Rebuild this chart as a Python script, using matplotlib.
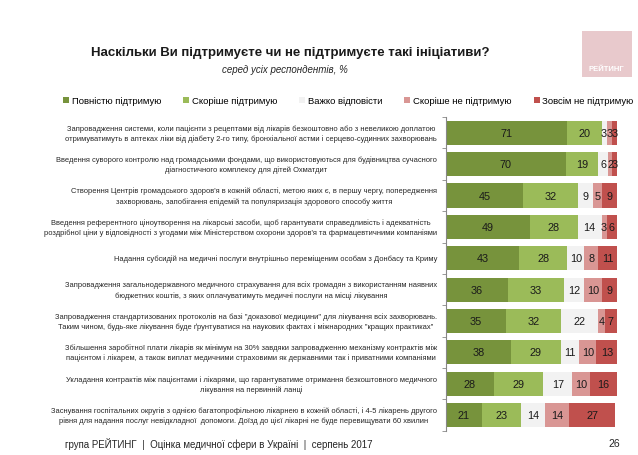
import matplotlib.pyplot as plt
from matplotlib.patches import Rectangle, Patch
import numpy as np

plt.rcParams['font.family'] = ['Liberation Sans', 'DejaVu Sans']

categories = [
    "Запровадження системи, коли пацієнти з рецептами від лікарів безкоштовно або з невеликою доплатою\n"
    "отримуватимуть в аптеках ліки від діабету 2-го типу, бронхіальної астми і серцево-судинних захворювань",
    "Введення суворого контролю над громадськими фондами, що використовуються для будівництва сучасного\n"
    "діагностичного комплексу для дітей Охматдит",
    "Створення Центрів громадського здоров'я в кожній області, метою яких є, в першу чергу, попередження\n"
    "захворювань, запобігання епідемій та популяризація здорового способу життя",
    "Введення референтного ціноутворення на лікарські засоби, щоб гарантувати справедливість і адекватність\n"
    "роздрібної ціни у відповідності з угодами між Міністерством охорони здоров'я та фармацевтичними компаніями",
    "Надання субсидій на медичні послуги внутрішньо переміщеним особам з Донбасу та Криму",
    "Запровадження загальнодержавного медичного страхування для всіх громадян з використанням наявних\n"
    "бюджетних коштів, з яких оплачуватимуть медичні послуги на місці лікування",
    "Запровадження стандартизованих протоколів на базі \"доказової медицини\" для лікування всіх захворювань.\n"
    "Таким чином, будь-яке лікування буде ґрунтуватися на наукових фактах і міжнародних \"кращих практиках\"",
    "Збільшення заробітної плати лікарів як мінімум на 30% завдяки запровадженню механізму контрактів між\n"
    "пацієнтом і лікарем, а також виплат медичними страховими як державними так і приватними компаніями",
    "Укладання контрактів між пацієнтами і лікарями, що гарантуватиме отримання безкоштовного медичного\n"
    "лікування на первинній ланці",
    "Заснування госпітальних округів з однією багатопрофільною лікарнею в кожній області, і 4-5 лікарень другого\n"
    "рівня для надання послуг невідкладної  допомоги. Доїзд до цієї лікарні не буде перевищувати 60 хвилин",
]

series_names = ["Повністю підтримую", "Скоріше підтримую", "Важко відповісти",
                "Скоріше не підтримую", "Зовсім не підтримую"]
fully_support = [71, 70, 45, 49, 43, 36, 35, 38, 28, 21]
rather_support = [20, 19, 32, 28, 28, 33, 32, 29, 29, 23]
hard_to_say = [3, 6, 9, 14, 10, 12, 22, 11, 17, 14]
rather_not = [3, 2, 5, 3, 8, 10, 4, 10, 10, 14]
not_at_all = [3, 3, 9, 6, 11, 9, 7, 13, 16, 27]

colors = ['#77933C', '#9BBB59', '#F2F2F2', '#D99694', '#C0504D']

fig = plt.figure(figsize=(6.38, 4.56), dpi=100)
ax = fig.add_axes([0.699, 0.053, 0.268, 0.688])

series = [fully_support, rather_support, hard_to_say, rather_not, not_at_all]
y = np.arange(len(categories))
left = np.zeros(len(categories))
for vals, col in zip(series, colors):
    vals = np.array(vals, dtype=float)
    bars = ax.barh(y, vals, left=left, height=0.77, color=col, edgecolor='none')
    for b, v in zip(bars, vals):
        ax.text(b.get_x() + b.get_width() / 2, b.get_y() + b.get_height() / 2,
                f"{int(v)}", ha='center', va='center', fontsize=7.8, color='#1a1a1a')
    left += vals

ax.set_xlim(0, 100)
ax.set_ylim(len(categories) - 0.5, -0.5)
ax.set_xticks([])
ax.set_yticks([])
ax.set_yticks(np.arange(len(categories) + 1) - 0.5, minor=True)
ax.tick_params(axis='y', which='minor', length=3, color='#888888', labelleft=False)
for s in ['top', 'right', 'bottom']:
    ax.spines[s].set_visible(False)
ax.spines['left'].set_color('#888888')
ax.spines['left'].set_linewidth(0.8)

for i, lab in enumerate(categories):
    ax.annotate(lab, xy=(0, i), xycoords=('axes fraction', 'data'),
                xytext=(-6.5, 0), textcoords='offset points',
                ha='right', va='center', multialignment='center',
                fontsize=5.4, color='#262626', linespacing=1.4)

handles = [Patch(facecolor=c, edgecolor='none') for c in colors]
fig.legend(handles, series_names, loc='center', bbox_to_anchor=(0.546, 0.777),
           ncol=5, frameon=False, fontsize=6.8, handlelength=0.65, handleheight=0.65,
           handletextpad=0.3, columnspacing=2.3)

fig.text(0.455, 0.883, "Наскільки Ви підтримуєте чи не підтримуєте такі ініціативи?",
         ha='center', va='center', fontsize=9.5, fontweight='bold', color='#1a1a1a')
fig.text(0.447, 0.846, "серед усіх респондентів, %", ha='center', va='center',
         fontsize=7, style='italic', color='#262626')

fig.add_artist(Rectangle((0.912, 0.83), 0.079, 0.1, transform=fig.transFigure,
                         facecolor='#E8C9CC', edgecolor='none'))
fig.text(0.951, 0.848, "РЕЙТИНГ", ha='center', va='center', fontsize=5.5,
         fontweight='bold', color='white')

fig.text(0.102, 0.026, "група РЕЙТИНГ  |  Оцінка медичної сфери в Україні  |  серпень 2017",
         ha='left', va='center', fontsize=7, color='#262626')
fig.text(0.962, 0.026, "26", ha='center', va='center', fontsize=7.5, color='#262626')

fig.savefig("out.png", dpi=100)
